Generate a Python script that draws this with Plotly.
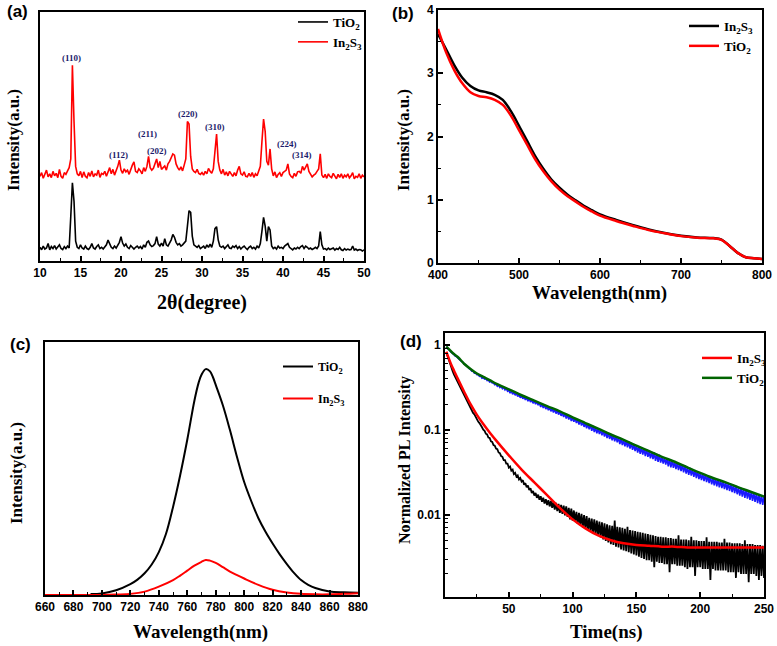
import plotly.graph_objects as go

# ---------------- (a) XRD ----------------
XRD_START, XRD_STEP = 10.0, 0.2
XRD_IN2S3 = [
    34.0, 35.5, 33.2, 34.8, 36.5, 33.8, 35.0, 33.5, 36.0, 34.2,
    35.2, 33.5, 36.8, 34.0, 33.2, 35.5, 34.8, 36.2, 37.5, 41.0,
    78.6, 56.0, 38.0, 35.0, 34.2, 36.0, 33.5, 35.8, 34.0, 33.4,
    35.5, 34.0, 36.2, 33.8, 35.0, 34.5, 36.5, 33.6, 35.2, 34.8,
    36.0, 34.0, 35.5, 37.5, 35.0, 36.8, 34.5, 36.0, 38.0, 40.5,
    36.5, 35.2, 37.0, 35.8, 36.5, 34.8, 37.2, 38.5, 39.8, 36.0,
    35.5, 37.0, 36.2, 35.0, 37.5, 36.0, 38.0, 42.0, 37.5, 36.5,
    37.2, 39.0, 41.0, 37.5, 40.0, 36.8, 37.5, 38.2, 36.5, 39.0,
    40.0, 41.5, 43.0, 42.5, 39.0, 37.5, 36.5, 37.8, 36.2, 38.5,
    41.0, 56.0, 55.0, 42.0, 37.0, 36.0, 35.5, 36.8, 35.2, 34.8,
    35.5, 34.5, 36.0, 35.0, 37.2, 36.0, 35.2, 37.0, 43.0, 51.0,
    40.0, 36.5, 35.0, 36.8, 34.5, 35.8, 34.2, 36.0, 35.0, 34.0,
    35.5, 34.2, 36.5, 38.0, 35.0, 34.5, 35.8, 34.0, 33.8, 35.2,
    34.0, 35.5, 33.6, 35.0, 34.2, 36.5, 38.0, 48.0, 57.0, 52.0,
    40.0, 38.5, 45.0, 37.0, 34.2, 35.8, 33.5, 34.8, 35.5, 34.0,
    35.5, 36.0, 36.5, 39.0, 35.0, 34.0, 33.5, 35.2, 34.0, 35.8,
    36.0, 35.2, 38.0, 36.5, 37.5, 39.0, 36.0, 34.8, 33.8, 34.5,
    35.0, 36.0, 37.0, 43.0, 34.5, 33.5, 34.8, 33.2, 35.0, 34.0,
    33.5, 35.2, 34.0, 33.0, 34.8, 33.6, 35.0, 33.2, 34.5, 33.8,
    35.0, 33.4, 34.2, 35.5, 33.0, 34.0, 33.6, 35.0, 33.2, 34.5,
    33.8,
]
XRD_TIO2 = [
    5.5, 4.5, 6.0, 4.8, 5.2, 7.0, 4.5, 5.8, 5.0, 6.2,
    4.8, 5.5, 6.5, 5.0, 4.6, 5.8, 5.0, 6.0, 5.2, 18.0,
    31.4, 24.0, 8.0, 5.5, 5.0, 6.5, 5.2, 4.8, 6.0, 5.0,
    4.6, 5.5, 7.0, 5.2, 4.8, 5.8, 6.5, 5.0, 5.5, 4.8,
    5.5, 6.5, 8.4, 7.0, 5.5, 5.0, 6.0, 5.2, 6.5, 7.5,
    9.8, 7.2, 6.0, 6.8, 5.5, 5.0, 6.2, 5.4, 4.8, 5.5,
    6.0, 5.2, 5.8, 4.8, 6.5, 5.5, 7.5, 8.0, 6.5, 5.8,
    6.2, 7.0, 9.8, 6.8, 6.0, 7.2, 6.0, 9.0, 6.5, 6.0,
    7.0, 8.5, 10.7, 9.5, 7.5, 6.5, 7.0, 6.0, 6.5, 7.5,
    8.0, 14.0, 20.2, 19.5, 10.0, 6.5, 6.0, 5.5, 6.2, 5.0,
    5.5, 6.0, 5.0, 6.5, 5.5, 6.8, 5.5, 8.0, 13.0, 13.8,
    8.5, 6.0, 5.5, 6.0, 5.0, 5.8, 6.5, 5.2, 5.0, 6.0,
    5.5, 6.2, 5.0, 5.8, 4.8, 5.5, 6.0, 5.2, 4.6, 5.5,
    6.0, 5.0, 5.5, 4.8, 6.0, 5.2, 7.0, 12.0, 17.5, 14.0,
    8.0, 13.8, 12.5, 6.0, 5.0, 5.5, 4.8, 6.0, 5.2, 5.5,
    5.0, 6.0, 6.5, 7.0, 5.5, 5.0, 4.5, 5.2, 4.8, 5.5,
    5.0, 5.8, 6.2, 5.0, 6.0, 5.5, 4.8, 5.2, 4.6, 5.0,
    5.5, 5.0, 6.0, 11.8, 6.5, 4.8, 5.0, 4.5, 5.2, 4.6,
    4.8, 5.2, 4.4, 5.0, 4.6, 5.5, 4.5, 4.2, 5.0, 4.4,
    4.8, 4.5, 4.6, 6.0, 4.4, 4.8, 4.2, 4.6, 4.5, 4.0,
    4.5,
]
XRD_X = [round(XRD_START + XRD_STEP * i, 1) for i in range(len(XRD_IN2S3))]
HKL_LABELS = ["(110)", "(112)", "(211)", "(202)", "(220)", "(310)", "(224)", "(314)"]
HKL_X = [13.9, 19.7, 23.3, 24.4, 28.3, 31.6, 40.5, 42.4]
HKL_Y = [81.5, 42.5, 51.0, 44.2, 59.0, 54.0, 47.0, 42.6]

# ---------------- (b) absorbance ----------------
WL_B = [400, 410, 420, 430, 440, 450, 460, 470, 480, 490, 500, 510, 520, 530, 540, 550,
        560, 570, 580, 590, 600, 620, 640, 660, 680, 700, 720, 740, 750, 760, 770, 780, 790, 800]
ABS_IN2S3 = [3.62, 3.38, 3.13, 2.93, 2.80, 2.73, 2.70, 2.66, 2.58, 2.40, 2.17, 1.93, 1.69, 1.49,
             1.32, 1.19, 1.08, 0.99, 0.905, 0.835, 0.77, 0.68, 0.60, 0.53, 0.475, 0.43, 0.405,
             0.395, 0.37, 0.27, 0.16, 0.09, 0.075, 0.065]
ABS_TIO2 = [3.70, 3.33, 3.05, 2.84, 2.70, 2.64, 2.62, 2.58, 2.50, 2.33, 2.10, 1.87, 1.64, 1.45,
            1.29, 1.16, 1.055, 0.97, 0.885, 0.815, 0.75, 0.665, 0.59, 0.52, 0.47, 0.425, 0.40,
            0.39, 0.365, 0.27, 0.16, 0.09, 0.075, 0.065]

# ---------------- (c) PL ----------------
WL_C_TIO2 = [692, 700, 710, 720, 725, 730, 735, 740, 745, 750, 755, 760, 765, 768, 770, 773,
             776, 778, 780, 785, 790, 795, 800, 805, 810, 815, 820, 825, 830, 835, 840, 845,
             850, 860, 870, 880]
PL_TIO2 = [0.004, 0.007, 0.021, 0.048, 0.068, 0.096, 0.135, 0.19, 0.27, 0.39, 0.53, 0.687,
           0.86, 0.94, 0.975, 1.0, 0.99, 0.965, 0.93, 0.84, 0.73, 0.61, 0.50, 0.415, 0.34,
           0.28, 0.228, 0.18, 0.137, 0.098, 0.066, 0.045, 0.031, 0.016, 0.012, 0.01]
WL_C_IN2S3 = [660, 680, 700, 710, 720, 730, 740, 750, 755, 760, 765, 770, 773, 776, 780, 785,
              790, 795, 800, 810, 820, 830, 840, 850, 860, 870, 880]
PL_IN2S3 = [0.0, 0.0, 0.0, 0.002, 0.005, 0.015, 0.037, 0.066, 0.086, 0.108, 0.13, 0.147, 0.155,
            0.152, 0.142, 0.123, 0.104, 0.088, 0.073, 0.045, 0.023, 0.011, 0.005, 0.003, 0.003,
            0.005, 0.008]

# ---------------- (d) TRPL (1 ns sampling, t = 1..250) ----------------
T_DATA = list(range(1, 251))
TRPL_IN2S3 = [
    0.82, 0.73, 0.65, 0.59, 0.54, 0.49, 0.45, 0.42, 0.39, 0.36,
    0.34, 0.31, 0.295, 0.27, 0.255, 0.235, 0.222, 0.205, 0.195, 0.18,
    0.172, 0.158, 0.152, 0.14, 0.135, 0.125, 0.12, 0.111, 0.107, 0.1,
    0.097, 0.09, 0.088, 0.081, 0.08, 0.073, 0.072, 0.066, 0.065, 0.06,
    0.059, 0.054, 0.053, 0.049, 0.048, 0.044, 0.044, 0.04, 0.04, 0.036,
    0.037, 0.033, 0.034, 0.030, 0.031, 0.028, 0.029, 0.026, 0.027, 0.0245,
    0.0255, 0.0225, 0.0235, 0.021, 0.022, 0.0195, 0.0205, 0.018, 0.019, 0.0168,
    0.018, 0.0158, 0.0172, 0.015, 0.0165, 0.0142, 0.0158, 0.0135, 0.0152, 0.013,
    0.0148, 0.0125, 0.0145, 0.012, 0.0142, 0.0115, 0.0138, 0.011, 0.0134, 0.0105,
    0.013, 0.0102, 0.0128, 0.0098, 0.0125, 0.0094, 0.012, 0.0088, 0.0118, 0.0085,
    0.0112, 0.0082, 0.0108, 0.0078, 0.0105, 0.0075, 0.0102, 0.0071, 0.0099, 0.0068,
    0.0096, 0.0065, 0.0092, 0.0063, 0.009, 0.006, 0.0088, 0.0058, 0.0085, 0.0056,
    0.0083, 0.0054, 0.0081, 0.0051, 0.0079, 0.0049, 0.0077, 0.0047, 0.0075, 0.0045,
    0.0074, 0.0044, 0.0085, 0.0042, 0.0072, 0.0041, 0.0071, 0.0039, 0.007, 0.0038,
    0.0068, 0.0037, 0.0072, 0.0036, 0.0066, 0.0035, 0.0065, 0.0034, 0.0064, 0.0033,
    0.0063, 0.0032, 0.0062, 0.0031, 0.0061, 0.003, 0.006, 0.0029, 0.0059, 0.0029,
    0.0058, 0.0028, 0.0057, 0.0024, 0.0056, 0.0028, 0.0055, 0.0027, 0.0055, 0.0027,
    0.0054, 0.0026, 0.0054, 0.0026, 0.0053, 0.0021, 0.0053, 0.0026, 0.0052, 0.0026,
    0.0052, 0.0025, 0.0057, 0.0025, 0.0051, 0.0025, 0.0051, 0.0024, 0.0051, 0.0023,
    0.005, 0.0024, 0.0055, 0.0024, 0.005, 0.0019, 0.005, 0.0024, 0.0049, 0.0024,
    0.0049, 0.0023, 0.0049, 0.0023, 0.0054, 0.0023, 0.0048, 0.0017, 0.0048, 0.0023,
    0.0048, 0.0022, 0.0048, 0.0022, 0.0047, 0.0022, 0.0047, 0.0022, 0.0052, 0.0022,
    0.0047, 0.0021, 0.0047, 0.0021, 0.0046, 0.0021, 0.0046, 0.0018, 0.0046, 0.0021,
    0.0046, 0.002, 0.0045, 0.002, 0.005, 0.002, 0.0045, 0.0016, 0.0045, 0.002,
    0.0045, 0.002, 0.0044, 0.0019, 0.0044, 0.0017, 0.0044, 0.0019, 0.0043, 0.0018,
]
TRPL_TIO2 = [
    0.95, 0.90, 0.88, 0.84, 0.82, 0.79, 0.77, 0.74, 0.73, 0.70,
    0.675, 0.665, 0.635, 0.625, 0.59, 0.585, 0.56, 0.55, 0.525, 0.515,
    0.49, 0.49, 0.465, 0.465, 0.445, 0.445, 0.425, 0.43, 0.405, 0.41,
    0.395, 0.40, 0.38, 0.385, 0.365, 0.37, 0.355, 0.355, 0.34, 0.345,
    0.325, 0.335, 0.315, 0.325, 0.305, 0.315, 0.295, 0.305, 0.285, 0.295,
    0.27, 0.285, 0.262, 0.278, 0.255, 0.268, 0.247, 0.26, 0.238, 0.25,
    0.232, 0.246, 0.225, 0.24, 0.217, 0.233, 0.212, 0.226, 0.205, 0.219,
    0.2, 0.214, 0.195, 0.206, 0.186, 0.203, 0.181, 0.196, 0.175, 0.19,
    0.17, 0.184, 0.165, 0.178, 0.16, 0.175, 0.155, 0.169, 0.151, 0.164,
    0.146, 0.158, 0.141, 0.156, 0.136, 0.151, 0.132, 0.146, 0.127, 0.139,
    0.124, 0.136, 0.12, 0.132, 0.115, 0.129, 0.112, 0.124, 0.108, 0.119,
    0.104, 0.117, 0.101, 0.114, 0.097, 0.111, 0.094, 0.107, 0.091, 0.103,
    0.089, 0.1, 0.086, 0.097, 0.083, 0.095, 0.08, 0.092, 0.078, 0.088,
    0.075, 0.087, 0.073, 0.084, 0.071, 0.082, 0.068, 0.079, 0.066, 0.076,
    0.064, 0.074, 0.062, 0.073, 0.06, 0.07, 0.058, 0.068, 0.056, 0.065,
    0.054, 0.064, 0.052, 0.062, 0.051, 0.06, 0.049, 0.059, 0.048, 0.056,
    0.046, 0.055, 0.045, 0.054, 0.043, 0.052, 0.042, 0.051, 0.041, 0.048,
    0.04, 0.047, 0.039, 0.046, 0.037, 0.045, 0.036, 0.044, 0.0355, 0.042,
    0.0345, 0.041, 0.0335, 0.04, 0.0325, 0.039, 0.0315, 0.038, 0.0305, 0.036,
    0.0295, 0.0355, 0.0288, 0.0345, 0.0278, 0.0335, 0.027, 0.0325, 0.0262, 0.031,
    0.0255, 0.0305, 0.0248, 0.0298, 0.0242, 0.029, 0.0235, 0.0283, 0.0228, 0.027,
    0.0222, 0.0267, 0.0216, 0.026, 0.021, 0.0255, 0.0205, 0.0249, 0.02, 0.024,
    0.0195, 0.0237, 0.019, 0.023, 0.0184, 0.0225, 0.0179, 0.0219, 0.0174, 0.021,
    0.0168, 0.0207, 0.0163, 0.0202, 0.0158, 0.0197, 0.0154, 0.0192, 0.0149, 0.0185,
    0.0145, 0.0182, 0.0141, 0.0178, 0.0137, 0.0174, 0.0133, 0.017, 0.013, 0.0165,
]
T_FIT = [1, 3, 5, 7, 10, 15, 20, 25, 30, 35, 40, 50, 60, 70, 80, 90, 100, 110, 120, 130,
         140, 150, 160, 170, 180, 190, 200, 210, 220, 230, 240, 250]
FIT_IN2S3 = [0.83, 0.69, 0.58, 0.50, 0.40, 0.28, 0.20, 0.15, 0.117, 0.093, 0.075, 0.05,
             0.034, 0.024, 0.017, 0.012, 0.0088, 0.0069, 0.0057, 0.005, 0.0046, 0.0044,
             0.0043, 0.0042, 0.0042, 0.0041, 0.0041, 0.0041, 0.0041, 0.0041, 0.0041, 0.0041]
FIT_TIO2 = [0.955, 0.89, 0.83, 0.78, 0.72, 0.60, 0.52, 0.46, 0.42, 0.385, 0.35, 0.30, 0.255,
            0.22, 0.19, 0.165, 0.14, 0.12, 0.103, 0.088, 0.076, 0.065, 0.056, 0.048, 0.042,
            0.036, 0.031, 0.027, 0.024, 0.021, 0.0185, 0.0163]
LOG_MINOR = [0.002, 0.003, 0.004, 0.005, 0.006, 0.007, 0.008, 0.009,
             0.02, 0.03, 0.04, 0.05, 0.06, 0.07, 0.08, 0.09,
             0.2, 0.3, 0.4, 0.5, 0.6, 0.7, 0.8, 0.9]

TIO2 = "TiO<sub>2</sub>"
IN2S3 = "In<sub>2</sub>S<sub>3</sub>"

W, H = 777, 646


def px(x0, x1):
    return [x0 / W, x1 / W]


def py(top, bottom):
    return [1 - bottom / H, 1 - top / H]


fig = go.Figure()

# (a)
fig.add_trace(go.Scatter(x=XRD_X, y=XRD_TIO2, mode="lines", name=TIO2, line=dict(color="black", width=1.6),
                         xaxis="x", yaxis="y", legend="legend"))
fig.add_trace(go.Scatter(x=XRD_X, y=XRD_IN2S3, mode="lines", name=IN2S3, line=dict(color="#ff0000", width=1.6),
                         xaxis="x", yaxis="y", legend="legend"))
# (b)
fig.add_trace(go.Scatter(x=WL_B, y=ABS_IN2S3, mode="lines", name=IN2S3, line=dict(color="black", width=2.5, shape="spline"),
                         xaxis="x2", yaxis="y2", legend="legend2"))
fig.add_trace(go.Scatter(x=WL_B, y=ABS_TIO2, mode="lines", name=TIO2, line=dict(color="#ff0000", width=2.5, shape="spline"),
                         xaxis="x2", yaxis="y2", legend="legend2"))
# (c)
fig.add_trace(go.Scatter(x=WL_C_TIO2, y=PL_TIO2, mode="lines", name=TIO2, line=dict(color="black", width=2, shape="spline"),
                         xaxis="x3", yaxis="y3", legend="legend3", legendgroup="c1"))
fig.add_trace(go.Scatter(x=WL_C_IN2S3, y=PL_IN2S3, mode="lines", name=IN2S3, line=dict(color="#ff0000", width=2, shape="spline"),
                         xaxis="x3", yaxis="y3", legend="legend3", legendgroup="c2"))
# (d)
fig.add_trace(go.Scatter(x=T_DATA, y=TRPL_TIO2, mode="lines", showlegend=False, line=dict(color="#1a1aff", width=1.6),
                         xaxis="x4", yaxis="y4"))
fig.add_trace(go.Scatter(x=T_DATA, y=TRPL_IN2S3, mode="lines", showlegend=False, line=dict(color="black", width=1.8),
                         xaxis="x4", yaxis="y4"))
fig.add_trace(go.Scatter(x=T_FIT, y=FIT_IN2S3, mode="lines", name=IN2S3, line=dict(color="#ff0000", width=2.5, shape="spline"),
                         xaxis="x4", yaxis="y4", legend="legend4"))
fig.add_trace(go.Scatter(x=T_FIT, y=FIT_TIO2, mode="lines", name=TIO2, line=dict(color="#006400", width=2.5, shape="spline"),
                         xaxis="x4", yaxis="y4", legend="legend4"))

TICKFONT = dict(family="Liberation Sans", size=12, color="black", weight="bold")


def axis(domain, anchor, **kw):
    d = dict(domain=domain, anchor=anchor, showline=True, linecolor="black", linewidth=2, mirror=True,
             ticks="inside", ticklen=5, tickwidth=1.5, tickcolor="black", showgrid=False, zeroline=False,
             tickfont=TICKFONT)
    d.update(kw)
    return d


MINOR = dict(ticks="inside", ticklen=3, tickwidth=1.2, tickcolor="black", showgrid=False)

fig.update_layout(
    width=W, height=H, autosize=False,
    margin=dict(l=0, r=0, t=0, b=0, pad=0, autoexpand=False),
    paper_bgcolor="white", plot_bgcolor="white",
    xaxis=axis(px(40, 364), "y", range=[10, 50], dtick=5, minor=dict(dtick=2.5, **MINOR)),
    yaxis=axis(py(12, 261), "x", range=[0, 100], showticklabels=False, ticks=""),
    xaxis2=axis(px(438, 762), "y2", range=[400, 800], dtick=100, minor=dict(dtick=50, **MINOR)),
    yaxis2=axis(py(10, 263), "x2", range=[0, 4], dtick=1, minor=dict(dtick=0.5, **MINOR)),
    xaxis3=axis(px(45, 358), "y3", range=[660, 880], dtick=20, minor=dict(dtick=10, **MINOR)),
    yaxis3=axis(py(342, 595), "x3", range=[0, 1.12], showticklabels=False, ticks=""),
    xaxis4=axis(px(445, 764), "y4", range=[0, 250], tickvals=[50, 100, 150, 200, 250],
                minor=dict(tickvals=[25, 75, 125, 175, 225], **MINOR)),
    yaxis4=axis(py(333, 597), "x4", type="log", range=[-2.97, 0.14], tickvals=[0.01, 0.1, 1],
                ticktext=["0.01", "0.1", "1"], minor=dict(tickvals=LOG_MINOR, **MINOR)),
    showlegend=True,
)

LEGFONT = dict(family="Liberation Serif", size=13, color="black", weight="bold")


def legend(x, y, **kw):
    d = dict(x=x / W, y=1 - y / H, xanchor="left", yanchor="top", bgcolor="rgba(0,0,0,0)",
             font=LEGFONT, borderwidth=0, tracegroupgap=0)
    d.update(kw)
    return d


fig.update_layout(
    legend=legend(293, 7),
    legend2=legend(684, 11),
    legend3=legend(278, 352, tracegroupgap=13, font=dict(family="Liberation Serif", size=12, color="black", weight="bold")),
    legend4=legend(697, 343),
)

annotations = []
for lab, hx, hy in zip(HKL_LABELS, HKL_X, HKL_Y):
    annotations.append(dict(x=hx, y=hy, xref="x", yref="y", text=f"<b>{lab}</b>", showarrow=False,
                            font=dict(family="Liberation Serif", size=9, color="#1b1b6b")))


def note(text, x, y, size, family="Liberation Serif", angle=0):
    return dict(x=x / W, y=1 - y / H, xref="paper", yref="paper", text=f"<b>{text}</b>",
                showarrow=False, textangle=angle, xanchor="center", yanchor="middle",
                font=dict(family=family, size=size, color="black"))


annotations += [
    note("(a)", 17, 12, 17, "Liberation Sans"),
    note("(b)", 403, 13, 17, "Liberation Sans"),
    note("(c)", 20, 345, 17, "Liberation Sans"),
    note("(d)", 411, 341, 17, "Liberation Sans"),
    note("Intensity(a.u.)", 13, 140, 17, angle=-90),
    note("2θ(degree)", 202, 302, 20),
    note("Intensity(a.u.)", 403, 140, 17, angle=-90),
    note("Wavelength(nm)", 599, 293, 19),
    note("Intensity(a.u.)", 16, 473, 17, angle=-90),
    note("Wavelength(nm)", 200, 632, 19),
    note("Normalized PL Intensity", 405, 460, 16, angle=-90),
    note("Time(ns)", 606, 632, 19),
]
fig.update_layout(annotations=annotations)

fig.write_html("out.html", config={"displayModeBar": False},
               post_script="document.body.style.margin='0px';document.body.style.overflow='hidden';")
